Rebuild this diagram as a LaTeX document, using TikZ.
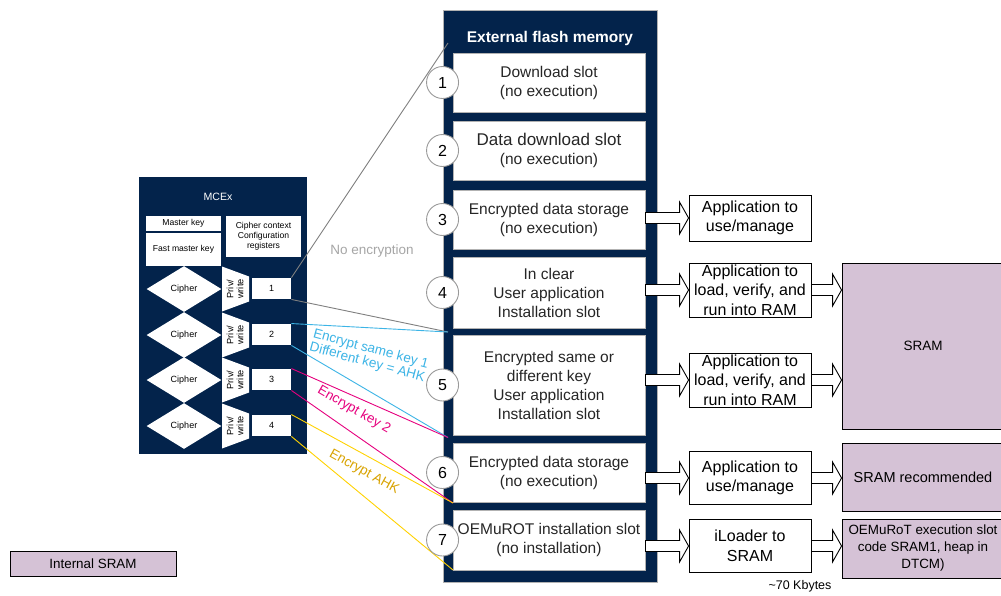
\documentclass[tikz,border=0pt]{standalone}
\usepackage{fontspec}
\setmainfont{Liberation Sans}
\usetikzlibrary{shapes.geometric,calc,positioning}

\definecolor{stnavy}{HTML}{03234B}
\definecolor{sram}{HTML}{D5C2D6}
\definecolor{keyblue}{HTML}{3CB4E6}
\definecolor{keymag}{HTML}{E6007E}
\definecolor{keyyel}{HTML}{FFD200}
\definecolor{ahktext}{HTML}{D9A300}

\tikzset{
	flashbox/.style={fill=stnavy, draw=gray!60, minimum width=214pt, minimum height=572pt},
	slot/.style={draw=gray!60, fill=white, minimum width=192pt, inner sep=0pt, align=center, text=black!85, font=\fontsize{15.5}{19}\selectfont},
	num/.style={circle, draw=gray!80, fill=white, minimum size=32pt, inner sep=0pt, font=\fontsize{16}{16}\selectfont},
	app/.style={draw, fill=white, minimum width=122pt, inner sep=0pt, align=center, font=\fontsize{16}{19.5}\selectfont},
	ram/.style={draw, fill=sram, minimum width=162pt, inner sep=0pt, align=center},
	mcebox/.style={fill=white, minimum width=75pt, inner sep=0pt, align=center, font=\fontsize{8.6}{10}\selectfont},
	cipher/.style={diamond, fill=white, minimum width=75pt, minimum height=46pt, inner sep=0pt, font=\fontsize{9}{10}\selectfont},
	reg/.style={fill=white, minimum width=39pt, minimum height=21pt, inner sep=0pt, font=\fontsize{9}{10}\selectfont},
	keylabel/.style={font=\fontsize{13.5}{14}\selectfont, align=center},
}

\newcommand\fatarrow[2]{%
	\draw[fill=white] let \p1=(#1), \p2=(#2) in
		(\x1,\y1+5.5pt) -- (\x2-9pt,\y1+5.5pt) -- (\x2-9pt,\y1+16pt) -- (\x2,\y1)
		-- (\x2-9pt,\y1-16pt) -- (\x2-9pt,\y1-5.5pt) -- (\x1,\y1-5.5pt) -- cycle;}

\begin{document}
\begin{tikzpicture}[x=1pt, y=-1pt, line width=0.9pt]
	\fill[white] (0,0) rectangle (1001,595);
	\useasboundingbox (0,0) rectangle (1001,595);

	\node[fill=stnavy, minimum width=168pt, minimum height=277pt] (mcex) at (223,315.5) {};
	\node[text=white, font=\fontsize{10.6}{12}\selectfont] (mcextitle) at (218,197) {MCEx};
	\node[mcebox, minimum height=15pt] (mkey) at (183.5,223.5) {Master key};
	\node[mcebox, minimum height=33pt] (fkey) at (183.5,249.5) {Fast master key};
	\node[mcebox, minimum height=41pt] (ctx) at (263.5,236.5) {Cipher context\\Configuration\\registers};
	\foreach \i/\y in {1/289,2/335,3/380,4/426} {
		\node[cipher] (c\i) at (184,\y) {Cipher};
		\fill[white] (222,\y-22.5) -- (249,\y-12.5) -- (249,\y+12.5) -- (222,\y+22.5) -- cycle;
		\node[rotate=90, inner sep=0pt, align=center, font=\fontsize{9.2}{10}\selectfont] (p\i) at (235,\y) {Priv/\\write};
		\node[reg] (r\i) at (271.5,\y-0.5) {\i};
	}

	\node[flashbox] (flash) at (550,296) {};
	\node[text=white, font=\bfseries\fontsize{15.5}{18}\selectfont] (flashtitle) at (550,38) {External flash memory};
	\node[slot, minimum height=59pt] (s1) at (549,82.5) {Download slot\\(no execution)};
	\node[slot, minimum height=59pt] (s2) at (549,150.5) {{\fontsize{17}{20}\selectfont Data download slot}\\(no execution)};
	\node[slot, minimum height=59pt] (s3) at (549,219.5) {Encrypted data storage\\(no execution)};
	\node[slot, minimum height=71pt] (s4) at (549,292.5) {In clear\\User application\\Installation slot};
	\node[slot, minimum height=100pt] (s5) at (549,385) {Encrypted same or\\different key\\User application\\Installation slot};
	\node[slot, minimum height=59pt] (s6) at (549,472.5) {Encrypted data storage\\(no execution)};
	\node[slot, minimum height=60pt] (s7) at (549,540) {OEMuROT installation slot\\(no installation)};

	\coordinate (e1) at (448,43);
	\coordinate (e2) at (448,332);
	\coordinate (e3) at (448,437.5);
	\coordinate (e4) at (453,503);
	\coordinate (e5) at (453,570);
	\draw[gray] (r1.north east) -- (e1);
	\draw[gray] (r1.south east) -- (e2);
	\draw[keyblue] (r2.north east) -- (e2);
	\draw[keyblue] (r2.south east) -- (e3);
	\draw[keymag] (r3.north east) -- (e3);
	\draw[keymag] (r3.south east) -- (e4);
	\draw[keyyel] (r4.north east) -- (e4);
	\draw[keyyel] (r4.south east) -- (e5);

	\node[keylabel, text=gray!70] (noenc) at (372,251) {No encryption};
	\node[keylabel, text=keyblue, rotate=-15] (samekey) at (369,356) {Encrypt same key 1\\Different key = AHK};
	\node[keylabel, text=keymag, rotate=-30] (key2) at (354,410) {Encrypt key 2};
	\node[keylabel, text=ahktext, rotate=-29] (ahk) at (364,472) {Encrypt AHK};

	\foreach \i in {1,...,7}
		\node[num] (n\i) at (flash.west |- s\i) {\i};

	\node[app, minimum height=46pt] (b3) at (750,218) {Application to\\use/manage};
	\node[app, minimum height=54pt] (b4) at (750,290) {Application to\\load, verify, and\\run into RAM};
	\node[app, minimum height=54pt] (b5) at (750,380) {Application to\\load, verify, and\\run into RAM};
	\node[app, minimum height=53pt] (b6) at (750,478) {Application to\\use/manage};
	\node[app, minimum height=53pt] (b7) at (750,546) {iLoader to\\SRAM};

	\node[ram, minimum height=166pt, font=\fontsize{13.5}{16}\selectfont] (sr) at (923,346) {SRAM};
	\node[ram, minimum height=68pt, font=\fontsize{14.5}{17}\selectfont] (srrec) at (923,477) {SRAM recommended};
	\node[ram, minimum height=59pt, font=\fontsize{13.4}{17}\selectfont] (oem) at (923,548.5) {OEMuRoT execution slot\\code SRAM1, heap in\\DTCM)};

	\foreach \i in {3,...,7}
		\fatarrow{s\i.east |- b\i.west}{b\i.west};
	\fatarrow{b4.east}{b4.east -| sr.west};
	\fatarrow{b5.east}{b5.east -| sr.west};
	\fatarrow{b6.east}{b6.east -| srrec.west};
	\fatarrow{b7.east}{b7.east -| oem.west};

	\node[font=\fontsize{12.5}{14}\selectfont] (kbytes) at (800,586) {\textasciitilde 70 Kbytes};
	\node[draw, fill=sram, minimum width=166pt, minimum height=25pt, font=\fontsize{13.4}{16}\selectfont] (legend) at (93,563.5) {Internal SRAM};
\end{tikzpicture}
\end{document}
